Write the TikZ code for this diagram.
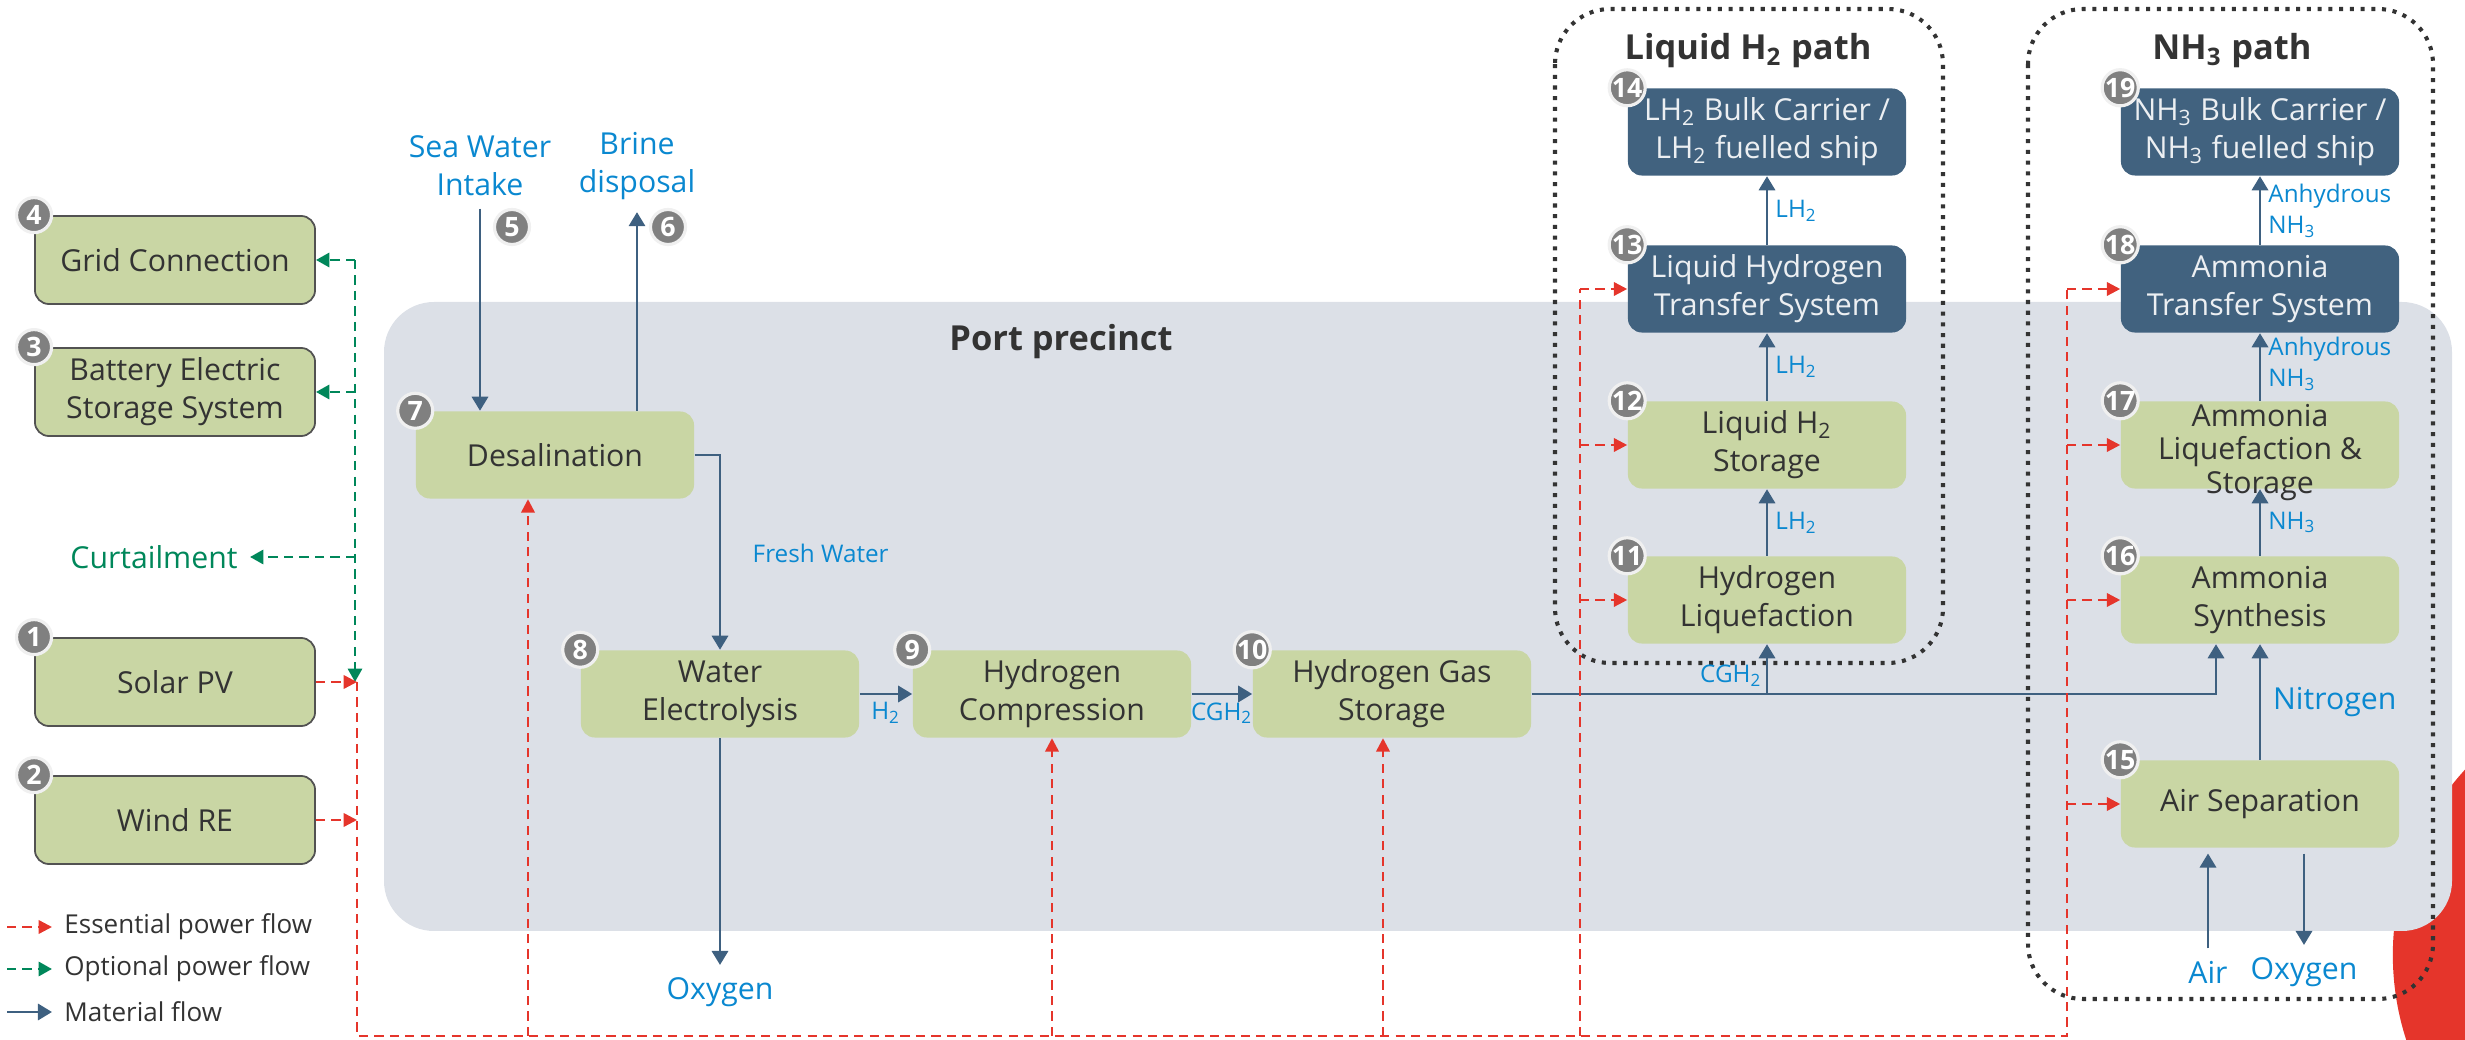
\documentclass[tikz,border=0pt]{standalone}
\usepackage{fontspec}
\setmainfont{Open Sans}
\usetikzlibrary{arrows.meta,positioning,calc}
\definecolor{boxg}{HTML}{C9D6A4}
\definecolor{boxb}{HTML}{41627F}
\definecolor{flow}{HTML}{3E6080}
\definecolor{lbl}{HTML}{0A88D0}
\definecolor{pwr}{HTML}{E5352B}
\definecolor{opt}{HTML}{00875A}
\definecolor{port}{HTML}{DCE0E7}
\definecolor{ink}{HTML}{333333}
\definecolor{badge}{HTML}{808080}
\newcommand{\tsub}[1]{\textsubscript{#1}}
\tikzset{
  box/.style={rectangle, rounded corners=0.14cm, fill=boxg, text=ink, minimum width=2.78cm,
    minimum height=0.87cm, inner sep=1pt, align=center, font=\fontsize{8.6}{10.8}\selectfont},
  obox/.style={box, draw=ink!85, line width=0.5pt, minimum width=2.8cm, minimum height=0.88cm},
  bbox/.style={box, fill=boxb, text=white!90!boxb},
  num/.style={circle, fill=badge, draw=white!88!gray, line width=0.9pt, minimum size=0.35cm,
    inner sep=0pt, text=white, font=\bfseries\fontsize{7.6}{8}\selectfont},
  lab/.style={text=lbl, align=center, font=\fontsize{8.6}{10.8}\selectfont},
  slab/.style={text=lbl, align=left, inner sep=2pt, font=\fontsize{6.9}{8.8}\selectfont},
  leg/.style={text=ink, font=\fontsize{7.4}{9}\selectfont},
  title/.style={text=ink, font=\bfseries\fontsize{9.8}{12}\selectfont},
  frame/.style={draw=ink, line width=1.15pt, dash pattern=on 1.15pt off 1.9pt, rounded corners=0.55cm},
  mat/.style={draw=flow, line width=0.8pt, -{Triangle[length=4pt,width=4.6pt]}},
  essl/.style={draw=pwr, line width=0.7pt, dash pattern=on 2.6pt off 1.8pt},
  ess/.style={essl, -{Triangle[length=3.8pt,width=3.8pt]}},
  optp/.style={draw=opt, line width=0.8pt, dash pattern=on 2.6pt off 1.8pt, -{Triangle[length=3.8pt,width=4pt]}}
}

\begin{document}
\begin{tikzpicture}[x=0.01cm, y=-0.01cm]
\useasboundingbox (0,0) rectangle (2465,1040);
\begin{scope}
  \clip (0,0) rectangle (2465,1040);
  \fill[pwr] (2667,955) circle [radius=2.74cm];
\end{scope}
\fill[port, rounded corners=0.5cm] (384,302) rectangle (2452,931);
\node[title] (portt) at (1061,342) {Port precinct};
\draw[frame] (1555,9) rectangle (1943,663);
\draw[frame] (2028,9) rectangle (2433,999);
\node[title] (lh2t) at (1748,51) {Liquid H\tsub{2} path};
\node[title] (nh3t) at (2232,51) {NH\tsub{3} path};

% energy sources
\node[obox] (grid) at (175,260) {Grid Connection};
\node[obox] (batt) at (175,392) {Battery Electric\\Storage System};
\node[obox] (solar) at (175,682) {Solar PV};
\node[obox] (wind) at (175,820) {Wind RE};
\node[lab, text=opt, anchor=east] (curt) at (250,557) {Curtailment};

% port processes
\node[box] (desal) at (555,455) {Desalination};
\node[box] (elec) at (720,694) {Water\\Electrolysis};
\node[box] (comp) at (1052,694) {Hydrogen\\Compression};
\node[box] (gas) at (1392,694) {Hydrogen Gas\\Storage};

\node[bbox] (lhbc) at (1767,132) {LH\tsub{2} Bulk Carrier /\\LH\tsub{2} fuelled ship};
\node[bbox] (lhts) at (1767,289) {Liquid Hydrogen\\Transfer System};
\node[box] (lhst) at (1767,445) {Liquid H\tsub{2}\\Storage};
\node[box] (lhlq) at (1767,600) {Hydrogen\\Liquefaction};

\node[bbox] (nhbc) at (2260,132) {NH\tsub{3} Bulk Carrier /\\NH\tsub{3} fuelled ship};
\node[bbox] (amts) at (2260,289) {Ammonia\\Transfer System};
\node[box] (amls) at (2260,445) {\smash{\raisebox{-0.16cm}{\fontsize{8.6}{9.5}\selectfont
  \begin{tabular}{@{}c@{}}Ammonia\\Liquefaction \&\\Storage\end{tabular}}}};
\node[box] (amsy) at (2260,600) {Ammonia\\Synthesis};
\node[box] (asep) at (2260,804) {Air Separation};

\foreach \b/\n in {grid/4, batt/3, solar/1, wind/2, desal/7, elec/8, comp/9, gas/10,
  lhlq/11, lhst/12, lhts/13, lhbc/14, asep/15, amsy/16, amls/17, amts/18, nhbc/19}
  \node[num] at (\b.north west) {\n};

% outside inputs and outputs
\node[lab] (sea) at (480,166) {Sea Water\\Intake};
\node[lab] (brine) at (637,166) {Brine\\disposal};
\node[num] (n5) at (512,227) {5};
\node[num] (n6) at (668,227) {6};
\node[lab] (oxa) at (720,992) {Oxygen};
\node[lab] (air) at (2208,972) {Air};
\node[lab] (oxb) at (2304,972) {Oxygen};
\node[slab, anchor=west] (fw) at (745,553) {Fresh Water};

% material flow
\draw[mat] (sea.south) -- (sea.south |- desal.north);
\draw[mat] (brine.south |- desal.north) -- (brine.south);
\draw[mat] (desal.east) -- (elec.north |- desal.east) -- (elec.north);
\draw[mat] (elec.south) -- (oxa.north);
\draw[mat] (elec.east) -- (comp.west) node[midway, below, slab] {H\tsub{2}};
\draw[mat] (comp.east) -- (gas.west) node[midway, below, slab] {CGH\tsub{2}};
\coordinate (sy) at ($(amsy.south)+(-44,0)$);
\draw[mat] (gas.east) -- (sy |- gas.east) -- (sy);
\draw[mat] (lhlq.south |- gas.east) -- (lhlq.south) node[pos=0.05, anchor=south east, slab, inner sep=1pt] {CGH\tsub{2}};
\draw[mat] (lhlq) -- (lhst) node[midway, right, slab] {LH\tsub{2}};
\draw[mat] (lhst) -- (lhts) node[midway, right, slab] {LH\tsub{2}};
\draw[mat] (lhts) -- (lhbc) node[midway, right, slab] {LH\tsub{2}};
\draw[mat] (amsy) -- (amls) node[midway, right, slab] {NH\tsub{3}};
\draw[mat] (amls) -- (amts) node[midway, right, slab, yshift=0.03cm] {Anhydrous\\NH\tsub{3}};
\draw[mat] (amts) -- (nhbc) node[midway, right, slab] {Anhydrous\\NH\tsub{3}};
\draw[mat] (asep) -- (amsy) node[midway, right, lab, font=\fontsize{8.6}{10}\selectfont] {Nitrogen};
\draw[mat, shorten >=1.5pt] (air.north) -- (air.north |- asep.south);
\draw[mat, shorten <=1.5pt] (oxb.north |- asep.south) -- (oxb.north);

% power flow
\coordinate (pj) at (357,682);
\coordinate (pb) at (357,1036);
\coordinate (lb) at (1580,1036);
\coordinate (nb) at (2067,1036);
\coordinate (oj) at (355,260);
\coordinate (dp) at ($(desal.south)+(-27,0)$);
\coordinate (gp) at ($(gas.south)+(-9,0)$);
\draw[optp] (oj) -- (grid.east);
\draw[optp] (oj |- batt.east) -- (batt.east);
\draw[optp] (oj |- curt.east) -- (curt.east);
\draw[optp] (oj) -- (oj |- pj);
\draw[ess] (solar.east) -- (pj);
\draw[ess] (wind.east) -- (pj |- wind.east);
\draw[essl] (pj) -- (pb) -- (nb) -- (nb |- amts.west);
\draw[essl] (lb) -- (lb |- lhts.west);
\draw[ess] (pb -| dp) -- (dp);
\draw[ess] (pb -| comp.south) -- (comp.south);
\draw[ess] (pb -| gp) -- (gp);
\foreach \t in {lhts, lhst, lhlq} \draw[ess] (lb |- \t.west) -- (\t.west);
\foreach \t in {amts, amls, amsy, asep} \draw[ess] (nb |- \t.west) -- (\t.west);

% legend
\node[leg, anchor=west] (lg1) at (52,927) {Essential power flow};
\node[leg, anchor=west] (lg2) at (52,969) {Optional power flow};
\node[leg, anchor=west] (lg3) at (52,1012) {Material flow};
\draw[ess] ($(lg1.west)+(-45,0)$) -- (lg1.west);
\draw[optp] ($(lg2.west)+(-45,0)$) -- (lg2.west);
\draw[mat] ($(lg3.west)+(-45,0)$) -- (lg3.west);
\end{tikzpicture}
\end{document}
